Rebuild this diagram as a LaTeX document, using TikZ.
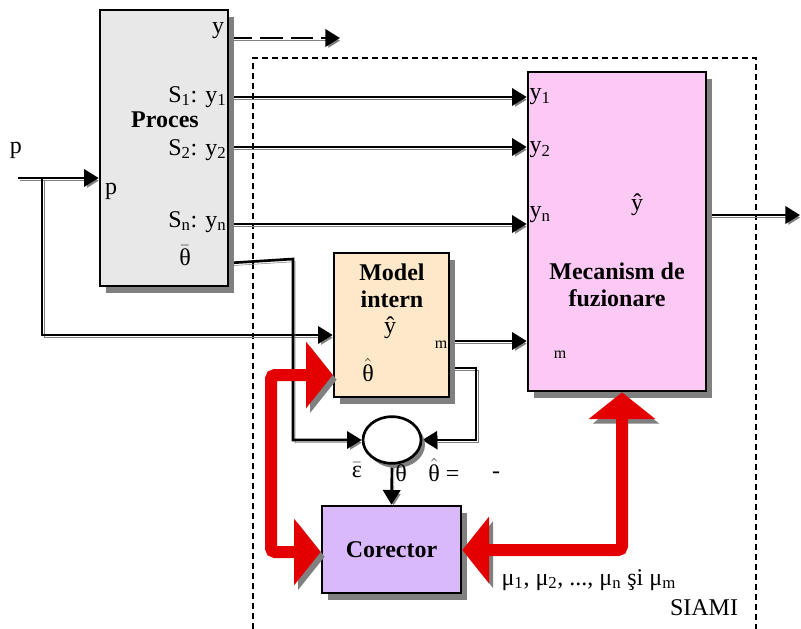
\documentclass[tikz,border=0pt]{standalone}
\usepackage{fontspec}
\setmainfont{Liberation Serif}
\usetikzlibrary{arrows.meta,positioning,shadows,fit,shapes.geometric}

\definecolor{procgray}{RGB}{232,232,232}
\definecolor{fuzpink}{RGB}{252,200,244}
\definecolor{modpeach}{RGB}{253,233,201}
\definecolor{corlilac}{RGB}{218,184,252}
\definecolor{redbar}{RGB}{228,0,0}
\definecolor{shade}{RGB}{128,128,128}

\newcommand{\hatof}[1]{$\hat{\mbox{#1}}$}
\newcommand{\barof}[1]{$\bar{\mbox{#1}}$}

\pgfdeclarelayer{bg}
\pgfsetlayers{bg,main}

\tikzset{
  blk/.style={draw, line width=2pt, inner sep=0pt,
    drop shadow={shadow xshift=4.5pt, shadow yshift=-5pt, opacity=1, fill=shade}},
  wire/.style={line width=2pt,
    preaction={draw=shade, transform canvas={xshift=1.5pt, yshift=-2pt}}},
  sig/.style={wire, -{Triangle[length=11pt,width=13pt]}},
  fat/.style={draw=redbar, line width=9pt, rounded corners=3pt,
    {Triangle[length=20pt,width=49pt]}-{Triangle[length=20pt,width=49pt]},
    preaction={draw=shade, transform canvas={xshift=3pt, yshift=-3.5pt}}},
  lbl/.style={font=\fontsize{18}{20}\selectfont, inner sep=1pt},
  title/.style={font=\fontsize{18}{20}\selectfont\bfseries, align=center, inner sep=1pt},
  tiny/.style={font=\fontsize{12}{12}\selectfont, inner sep=1pt}
}

\begin{document}
\begin{tikzpicture}[x=0.75pt, y=-0.75pt]
  \useasboundingbox (0,0) rectangle (801,629);

  % blocks
  \node[blk, fill=procgray, fit={(100,10) (228,286)}] (proces) {};
  \node[blk, fill=fuzpink, fit={(528,72) (706,391)}] (mecanism) {};
  \node[blk, fill=modpeach, fit={(334,253) (449,397)}] (model) {};
  \node[blk, fill=corlilac, fit={(322,506) (461,593)}] (corector) {};
  \node[draw, line width=2pt, ellipse, fill=white, minimum width=43.5pt, minimum height=35pt,
    drop shadow={shadow xshift=3pt, shadow yshift=-3.5pt, opacity=1, fill=shade}] (sum) at (392,440) {};

  % labels of Proces
  \node[lbl] (ylab) at (218,31) {y};
  \node[lbl, anchor=east] (s1) at (228,97) {S\textsubscript{1}: y\textsubscript{1}};
  \node[title] (proclab) at (165,120) {Proces};
  \node[lbl, anchor=east] (s2) at (228,150) {S\textsubscript{2}: y\textsubscript{2}};
  \node[lbl] (pin) at (111,191) {p};
  \node[lbl, anchor=east] (sn) at (228,222) {S\textsubscript{n}: y\textsubscript{n}};
  \node[lbl] (thbar) at (185,256) {\barof{θ}};
  \node[lbl] (pext) at (16,150) {p};

  % labels of Mecanism
  \node[lbl, anchor=west] (m1) at (528,97) {y\textsubscript{1}};
  \node[lbl, anchor=west] (m2) at (528,150) {y\textsubscript{2}};
  \node[lbl, anchor=west] (mn) at (528,215) {y\textsubscript{n}};
  \node[lbl] (yhat) at (637,205) {ŷ};
  \node[title] (meclab) at (617,285) {Mecanism de\\fuzionare};
  \node[tiny] (mm) at (560,355) {m};

  % labels of Model intern
  \node[title] (modlab) at (392,286) {Model\\intern};
  \node[lbl, inner sep=0pt] (myhat) at (390,328) {ŷ};
  \node[tiny] (mmod) at (441,345) {m};
  \node[lbl] (mthhat) at (368,370) {\hatof{θ}};

  % corector and others
  \node[title] (corlab) at (corector) {Corector};
  \node[lbl] (eps) at (357,470) {\barof{ε}};
  \node[lbl] (th) at (401,473) {θ};
  \node[lbl] (thhat) at (444,470) {\hatof{θ} =};
  \node[lbl] (minus) at (496,475) {-};
  \node[lbl, anchor=west] (mus) at (500,580) {μ\textsubscript{1}, μ\textsubscript{2}, ..., μ\textsubscript{n} şi μ\textsubscript{m}};
  \node[lbl] (siami) at (704,608) {SIAMI};

  % levels
  \coordinate (lv1) at (0,97);
  \coordinate (lv2) at (0,147);
  \coordinate (lvn) at (0,224);
  \coordinate (lvy) at (0,38);
  \coordinate (yend) at (340,38);
  \coordinate (lvout) at (0,215);
  \coordinate (yout) at (800,215);
  \coordinate (pstart) at (18,178);
  \coordinate (pbr) at (42,178);
  \coordinate (lvp) at (0,335);
  \coordinate (lvm) at (0,341);
  \coordinate (lvt) at (0,368);
  \coordinate (fb) at (476,440);
  \coordinate (lvth) at (0,263);
  \coordinate (tb) at (293,259);
  \coordinate (lvr) at (0,375);
  \coordinate (rl) at (271,552);
  \coordinate (rr) at (622,550);

  \begin{pgfonlayer}{bg}
    % SIAMI frame
    \draw[line width=1.1pt, dash pattern=on 4.5pt off 3pt] (253,629) -- (253,58) -- (756,58) -- (756,629);

    % signals
    \draw[sig, dash pattern=on 17pt off 6pt] (proces.east |- lvy) -- (yend);
    \draw[sig] (proces.east |- lv1) -- (mecanism.west |- lv1);
    \draw[sig] (proces.east |- lv2) -- (mecanism.west |- lv2);
    \draw[sig] (proces.east |- lvn) -- (mecanism.west |- lvn);
    \draw[sig] (mecanism.east |- lvout) -- (yout);
    \draw[sig] (pstart) -- (proces.west |- pstart);
    \draw[sig] (pbr) |- (model.west |- lvp);
    \draw[sig] (model.east |- lvm) -- (mecanism.west |- lvm);
    \draw[sig] (model.east |- lvt) -| (fb) -- (sum.east);
    \draw[sig] (proces.east |- lvth) -- (tb) |- (sum.west);
    \draw[sig] (sum.south) -- (corector.north);
  \end{pgfonlayer}

  % adaptation paths
  \draw[fat] (model.west |- lvr) -| (rl) -- (corector.west |- rl);
  \draw[fat] (corector.east |- rr) -- (rr) -- (rr |- mecanism.south);
\end{tikzpicture}
\end{document}
